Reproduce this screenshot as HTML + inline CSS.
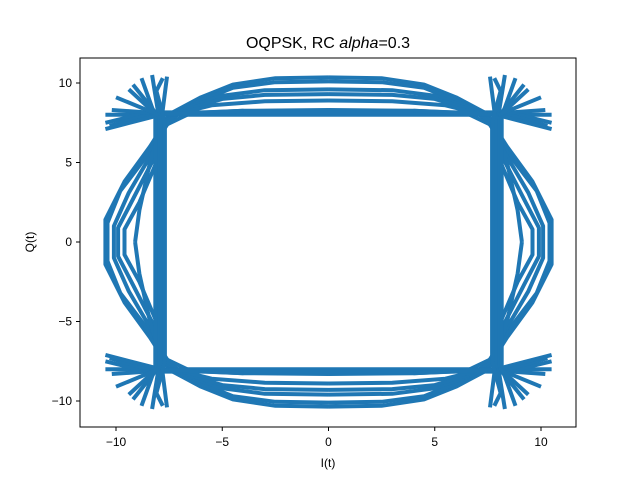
<!DOCTYPE html>
<html><head><meta charset="utf-8"><style>
body{margin:0;background:#fff}
svg{font-family:"Liberation Sans","DejaVu Sans",sans-serif}
</style></head><body>
<svg id="chart" width="640" height="480">
<rect width="640" height="480" fill="#fff"/>
<g id="plot"></g>
<rect x="80" y="58" width="496" height="369" fill="none" stroke="#000" stroke-width="1"/>
<g id="ticks"></g>
<text x="328" y="48" text-anchor="middle" font-size="16">OQPSK, RC <tspan font-style="italic">alpha</tspan>=0.3</text>
<text x="328" y="467" text-anchor="middle" font-size="12">I(t)</text>
<text x="34" y="242" text-anchor="middle" font-size="12" transform="rotate(-90 34 242)">Q(t)</text>
</svg>
<script>
const xTicks=[-10,-5,0,5,10];
const yTicks=[-10,-5,0,5,10];
// quadrant trajectories (I>=0,Q>=0), mirrored into all four quadrants
const arc1=[[0,10.35],[2.5,10.3],[4.5,9.9],[6,9.1],[7.4,8.1],[8.4,6],[9.6,3.8],[10.5,1.4],[10.5,0]];
const arc1b=[[0,10.1],[2.5,10.05],[4.5,9.7],[6,8.9],[7.3,8],[8.5,5.5],[9.8,3.2],[10.4,1.2],[10.4,0]];
const arc2=[[0,9.6],[3,9.55],[5,9.2],[6.5,8.5],[7.6,7.8],[8.3,5.6],[9.4,3.1],[10.1,1],[10.1,0]];
const arc2b=[[0,9.3],[3,9.25],[5,9],[6.5,8.4],[7.7,7.6],[8.2,5.3],[9.2,2.7],[9.9,0.9],[9.9,0]];
const arc3=[[0,8.9],[3,8.85],[5.5,8.6],[7,8.1],[7.9,7.2],[8.1,5],[8.9,2.5],[9.6,0.8],[9.6,0]];
const arc4=[[0,8.3],[4,8.25],[6.5,8.1],[7.9,7.2],[8.4,5],[8.9,2],[9.1,0]];
const flat1=[[0,8],[10.5,8]];
const flat2=[[0,8.15],[8.5,8.15],[10.5,7.5]];
const flat3=[[4,8.25],[8.5,8],[10.3,7.3]];
const flat4=[[7.5,8.05],[10.2,8.3]];
const vert1=[[8,0],[8,8],[8.3,10.5]];
const vert2=[[7.85,0],[7.85,7.8],[7.6,10.4]];
const vert3=[[8.15,0],[8.15,7.9],[8.8,10.3]];
const vert4=[[7.7,0],[7.7,7.5],[8.1,9.5],[7.8,10.3]];
const vert5=[[8,7.9],[9.2,9.9]];
const spike1=[[8,8],[10,9.1]];
const spike2=[[8.1,8],[9.4,9.6]];
const spike3=[[8.2,7.9],[10.5,7.1]];
const traces=[arc1,arc1b,arc2,arc2b,arc3,arc4,flat1,flat2,flat3,flat4,vert1,vert2,vert3,vert4,vert5,spike1,spike2,spike3];
const xs=v=>328.5+v*21.25, ys=v=>242-v*15.9;
const ns="http://www.w3.org/2000/svg";
const plot=document.getElementById('plot');
const signs=[[1,1],[-1,1],[1,-1],[-1,-1]];
traces.forEach((t,i)=>{signs.forEach(s=>{
  const p=document.createElementNS(ns,'polyline');
  p.setAttribute('points',t.map(q=>xs(q[0]*s[0]).toFixed(1)+','+ys(q[1]*s[1]).toFixed(1)).join(' '));
  p.setAttribute('fill','none');p.setAttribute('stroke','#1f77b4');p.setAttribute('stroke-width','4');
  p.setAttribute('stroke-linejoin','round');
  
  
  plot.appendChild(p);
});});
const tg=document.getElementById('ticks');
xTicks.forEach(v=>{
  const l=document.createElementNS(ns,'line');
  l.setAttribute('x1',xs(v));l.setAttribute('x2',xs(v));l.setAttribute('y1',427);l.setAttribute('y2',431);l.setAttribute('stroke','#000');
  
  
  tg.appendChild(l);
  const t=document.createElementNS(ns,'text');
  t.setAttribute('x',xs(v));t.setAttribute('y',446);t.setAttribute('text-anchor','middle');t.setAttribute('font-size','12');
  t.textContent=v<0?'\u2212'+(-v):v;
  
  
  tg.appendChild(t);
});
yTicks.forEach(v=>{
  const l=document.createElementNS(ns,'line');
  l.setAttribute('x1',76);l.setAttribute('x2',80);l.setAttribute('y1',ys(v));l.setAttribute('y2',ys(v));l.setAttribute('stroke','#000');
  
  
  tg.appendChild(l);
  const t=document.createElementNS(ns,'text');
  t.setAttribute('x',72);t.setAttribute('y',ys(v)+4);t.setAttribute('text-anchor','end');t.setAttribute('font-size','12');
  t.textContent=v<0?'\u2212'+(-v):v;
  
  
  tg.appendChild(t);
});
</script>
</body></html>
